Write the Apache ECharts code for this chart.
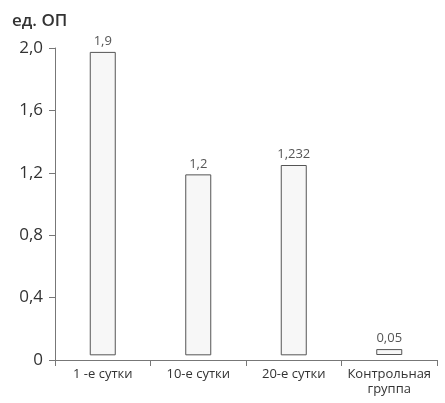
<!DOCTYPE html>
<html>
<head>
<meta charset="utf-8">
<script src="https://cdn.jsdelivr.net/npm/echarts@6/dist/echarts.min.js"></script>
<style>
  html, body { margin: 0; padding: 0; background: #fff; }
  #chart { width: 445px; height: 403px; }
</style>
</head>
<body>
<div id="chart"></div>
<script>
// данные с картинки
var categories = ["1 -е сутки", "10-е сутки", "20-е сутки", "Контрольная\nгруппа"];
var valueLabels = ["1,9", "1,2", "1,232", "0,05"];
// высота столбиков как нарисовано (верх столбика)
var barTops = [1.975, 1.19, 1.25, 0.07];
// столбики начинаются чуть выше нуля
var barBase = [0.03, 0.03, 0.03, 0.032];
var yTicks = [0, 0.4, 0.8, 1.2, 1.6, 2.0];

var barHeights = [];
for (var i = 0; i < barTops.length; i++) {
  barHeights.push(+(barTops[i] - barBase[i]).toFixed(3));
}

const myChart = echarts.init(document.getElementById("chart"));

var option = {
  animation: false,
  grid: {
    left: 55,
    right: 8,
    top: 48,
    bottom: 43,
  },
  graphic: [
    {
      type: "text",
      left: 12,
      top: 13,
      style: {
        text: "ед. ОП",
        font: "600 17px 'Open Sans', 'Noto Sans', sans-serif",
        fill: "#333",
      },
    },
  ],
  xAxis: {
    type: "category",
    data: categories,
    axisLine: { lineStyle: { color: "#777", width: 1 } },
    axisTick: { show: true, length: 6, lineStyle: { color: "#777" } },
    axisLabel: {
      color: "#333",
      fontSize: 13,
      fontFamily: "'Open Sans', 'Noto Sans', sans-serif",
      margin: 7,
      lineHeight: 15,
      interval: 0,
    },
  },
  yAxis: {
    type: "value",
    min: 0,
    max: 2.0,
    interval: 0.4,
    splitLine: { show: false },
    axisLine: { show: true, lineStyle: { color: "#777", width: 1 } },
    axisTick: { show: true, length: 6, lineStyle: { color: "#777" } },
    axisLabel: {
      color: "#333",
      fontSize: 17,
      fontFamily: "'Open Sans', 'Noto Sans', sans-serif",
      margin: 12,
      formatter: function (v) {
        if (yTicks.indexOf(v) < 0) return "";
        return v === 0 ? "0" : v.toFixed(1).replace(".", ",");
      },
    },
  },
  series: [
    {
      type: "bar",
      stack: "a",
      data: barBase,
      barWidth: 26,
      itemStyle: { color: "transparent" },
      silent: true,
    },
    {
      type: "bar",
      stack: "a",
      data: barHeights,
      barWidth: 26,
      itemStyle: {
        color: "#f7f7f7",
        borderColor: "#555",
        borderWidth: 1,
      },
      label: {
        show: true,
        position: "top",
        distance: 4,
        color: "#555",
        fontSize: 13,
        fontFamily: "'Open Sans', 'Noto Sans', sans-serif",
        formatter: function (arg) {
          return valueLabels[arg.dataIndex];
        },
      },
    },
  ],
};
myChart.setOption(option);
</script>
</body>
</html>
